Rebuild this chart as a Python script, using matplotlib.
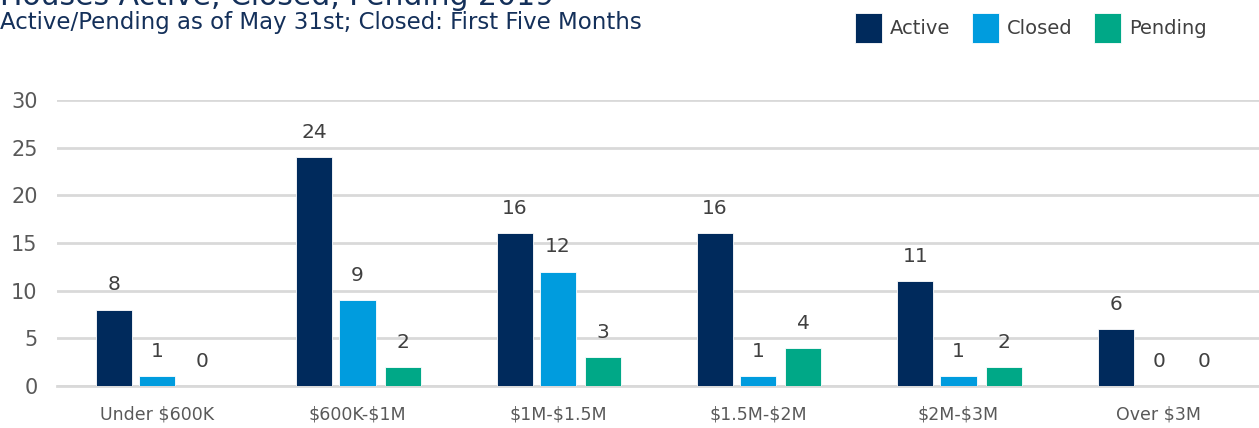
import matplotlib

matplotlib.use("Agg")

import matplotlib.pyplot as plt
import numpy as np

categories = ["Under $600K", "$600K-$1M", "$1M-$1.5M", "$1.5M-$2M", "$2M-$3M", "Over $3M"]
series_names = ["Active", "Closed", "Pending"]
active = [8, 24, 16, 16, 11, 6]
closed = [1, 9, 12, 1, 1, 0]
pending = [0, 2, 3, 4, 2, 0]
colors = ["#002A5C", "#009CDE", "#00A887"]

title = "Houses Active, Closed, Pending 2019"
subtitle = "Active/Pending as of May 31st; Closed: First Five Months"

plt.rcParams.update({"font.family": "DejaVu Sans", "text.color": "#404040",
                     "text.parse_math": False})

fig = plt.figure(figsize=(12.59, 4.28), dpi=100)
ax = fig.add_axes([57 / 1259, 1 - 386 / 428, 1 - 57 / 1259, (386 - 100) / 428])

x = np.arange(len(categories))
width = 0.18
offsets = [-0.215, 0.0, 0.225]
values = [active, closed, pending]
for name, vals, off, col in zip(series_names, values, offsets, colors):
    bars = ax.bar(x + off, vals, width, color=col, label=name,
                  edgecolor="white", linewidth=0.6, zorder=3)
    for b, v in zip(bars, vals):
        ax.annotate(str(v), (b.get_x() + b.get_width() / 2, v),
                    xytext=(0, 11), textcoords="offset points",
                    ha="center", va="bottom", fontsize=14.5, color="#404040")

ax.set_xlim(-0.5, len(categories) - 0.5)
ax.set_ylim(0, 30)
ax.set_yticks(range(0, 31, 5))
ax.set_xticks(x)
ax.set_xticklabels(categories)
ax.tick_params(axis="y", length=0, pad=14, labelsize=15, labelcolor="#595959")
ax.tick_params(axis="x", length=0, pad=14, labelsize=12.5, labelcolor="#595959")
ax.grid(axis="y", color="#D9D9D9", linewidth=2, zorder=0)
for side in ["top", "right", "left"]:
    ax.spines[side].set_visible(False)
ax.spines["bottom"].set_color("#D9D9D9")
ax.spines["bottom"].set_linewidth(2)

# title sits partly above the canvas, as in the source image
fig.text(0.0, 1 - 5 / 428, title, fontsize=21.5, color="#14305A", va="baseline", ha="left")
fig.text(0.0, 1 - 29 / 428, subtitle, fontsize=16.5, color="#14305A", va="baseline", ha="left")

ax.legend(loc="upper right", bbox_to_anchor=(1222 / 1259, 1 + 3 / 428), bbox_transform=fig.transFigure,
          ncol=3, frameon=False, fontsize=14, handlelength=1.4, handleheight=2.05,
          handletextpad=0.4, columnspacing=1.1, borderaxespad=0.4)

fig.savefig("out.png", dpi=100, facecolor="white")
